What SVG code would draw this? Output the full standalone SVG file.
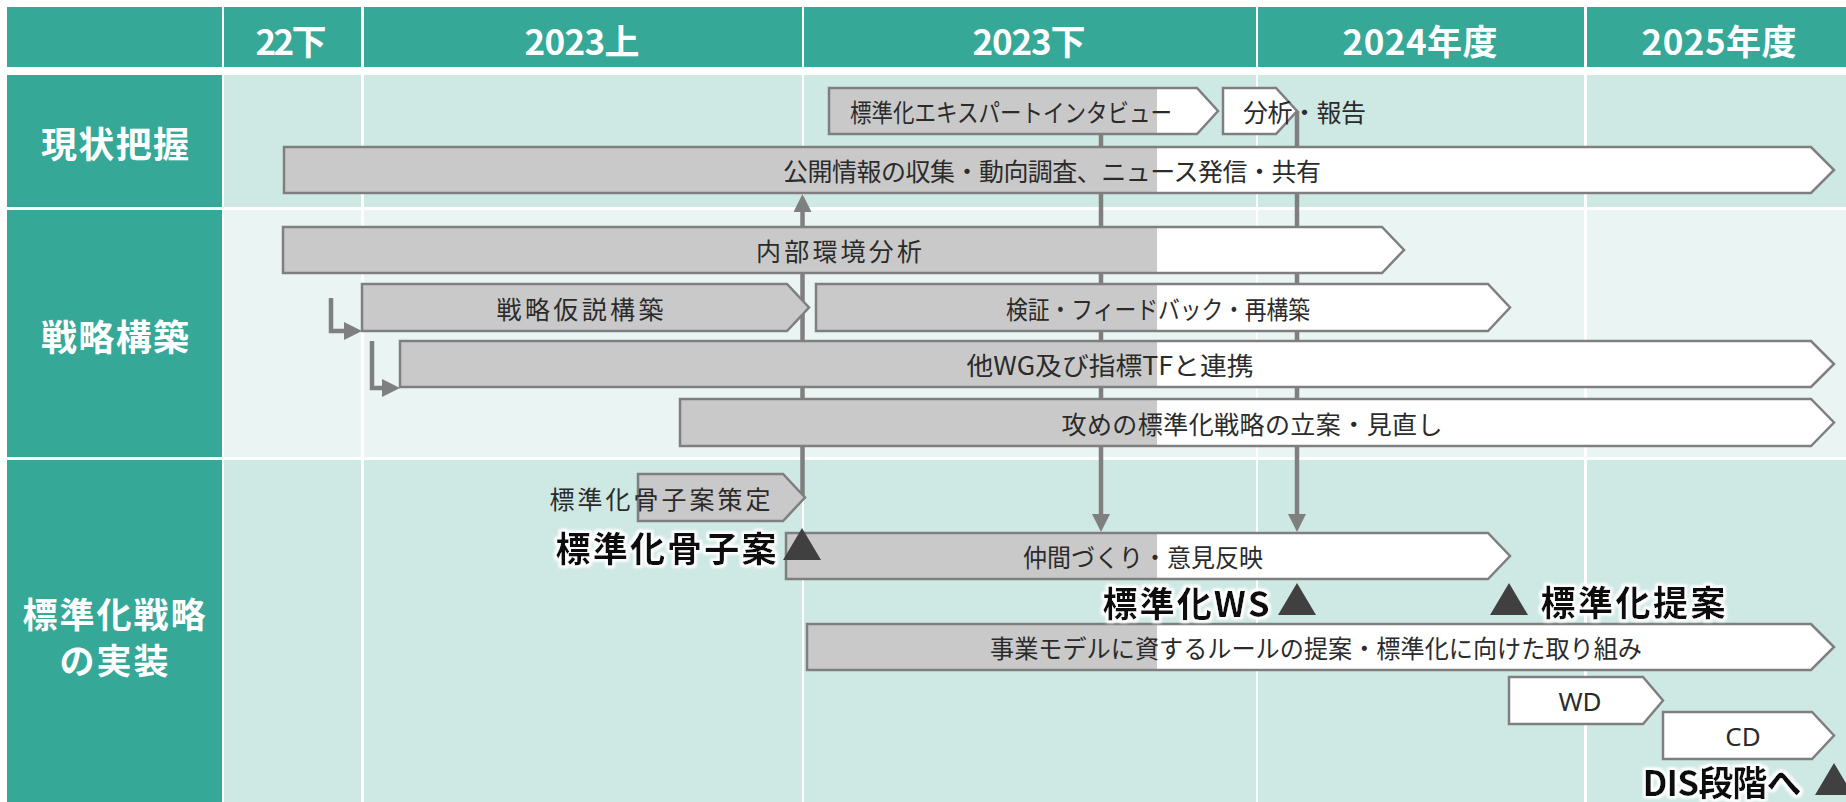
<svg xmlns="http://www.w3.org/2000/svg" width="1846" height="802" viewBox="0 0 1846 802">
<defs>
<linearGradient id="prog" gradientUnits="userSpaceOnUse" x1="0" y1="0" x2="1846" y2="0">
<stop offset="0.62676" stop-color="#C9C9C9"/>
<stop offset="0.62676" stop-color="#FFFFFF"/>
</linearGradient>
<marker id="arr" viewBox="0 0 18 18" refX="0" refY="9" markerWidth="18" markerHeight="18" orient="auto" markerUnits="userSpaceOnUse">
<path d="M0,0 L18,9 L0,18 Z" fill="#7F7F7F"/>
</marker>
<filter id="glow" x="-10%" y="-40%" width="120%" height="180%">
<feMorphology in="SourceAlpha" operator="dilate" radius="2" result="d"/>
<feGaussianBlur in="d" stdDeviation="1.6" result="b"/>
<feFlood flood-color="#FFFFFF"/>
<feComposite in2="b" operator="in" result="g"/>
<feMerge><feMergeNode in="g"/><feMergeNode in="g"/><feMergeNode in="SourceGraphic"/></feMerge>
</filter>
</defs>
<style>
text { font-family: "Noto Sans CJK JP", "Noto Sans", sans-serif; }
.hdr { fill: #35A898; }
.r1 { fill: #CEE8E4; }
.r2 { fill: #EAF5F3; }
.ht { fill: #FFFFFF; font-size: 35px; font-weight: bold; text-anchor: middle; dominant-baseline: central; }
.lab { font-size: 36px; }
.bar { fill: url(#prog); stroke: #7F7F7F; stroke-width: 2.5; }
.bt { font-size: 25px; fill: #2B2B2B; text-anchor: middle; dominant-baseline: central; }
.lt { font-family: "Noto Sans", sans-serif; font-size: 26px; }
.ms { font-size: 35px; font-weight: bold; fill: #111111; text-anchor: middle; dominant-baseline: central; filter: url(#glow); }
.tri { fill: #404040; }
.conn { stroke: #7F7F7F; stroke-width: 4.5; fill: none; stroke-linejoin: miter; marker-end: url(#arr); }
</style>
<rect x="0" y="0" width="1846" height="802" fill="#FFFFFF"/>
<g id="grid">
<rect class="hdr" x="7" y="7" width="215" height="60"/>
<rect class="hdr" x="224" y="7" width="137" height="60"/>
<rect class="hdr" x="364" y="7" width="438" height="60"/>
<rect class="hdr" x="804" y="7" width="452" height="60"/>
<rect class="hdr" x="1258" y="7" width="326" height="60"/>
<rect class="hdr" x="1587" y="7" width="259" height="60"/>
<rect class="hdr" x="7" y="75" width="215" height="132"/>
<rect class="hdr" x="7" y="210" width="215" height="247"/>
<rect class="hdr" x="7" y="460" width="215" height="342"/>
<rect class="r1" x="224" y="75" width="137" height="132"/>
<rect class="r1" x="364" y="75" width="438" height="132"/>
<rect class="r1" x="804" y="75" width="452" height="132"/>
<rect class="r1" x="1258" y="75" width="326" height="132"/>
<rect class="r1" x="1587" y="75" width="259" height="132"/>
<rect class="r2" x="224" y="210" width="137" height="247"/>
<rect class="r2" x="364" y="210" width="438" height="247"/>
<rect class="r2" x="804" y="210" width="452" height="247"/>
<rect class="r2" x="1258" y="210" width="326" height="247"/>
<rect class="r2" x="1587" y="210" width="259" height="247"/>
<rect class="r1" x="224" y="460" width="137" height="342"/>
<rect class="r1" x="364" y="460" width="438" height="342"/>
<rect class="r1" x="804" y="460" width="452" height="342"/>
<rect class="r1" x="1258" y="460" width="326" height="342"/>
<rect class="r1" x="1587" y="460" width="259" height="342"/>
<text class="ht" x="291" y="39" textLength="71">22下</text>
<text class="ht" x="582" y="39" textLength="115">2023上</text>
<text class="ht" x="1029" y="39" textLength="113">2023下</text>
<text class="ht" x="1420" y="39" textLength="155">2024年度</text>
<text class="ht" x="1719" y="39" textLength="155">2025年度</text>
<text class="ht lab" x="115" y="142" textLength="148">現状把握</text>
<text class="ht lab" x="115" y="335" textLength="148">戦略構築</text>
<text class="ht" x="115" y="612" style="letter-spacing:2px"><tspan x="115" y="612">標準化戦略</tspan><tspan x="115" y="658">の実装</tspan></text>
</g>
<g id="connectors">
<path class="conn" d="M802.5,497 V212"/>
<path class="conn" d="M1101,134 V514"/>
<path class="conn" d="M1297,111 V514"/>
<path class="conn" d="M331,298 V331 H344"/>
<path class="conn" d="M372,341 V388 H382"/>
</g>
<g id="interview">
<path class="bar" d="M829,88 H1197 L1218,111 L1197,134 H829 Z"/>
<text class="bt" x="1011" y="111" textLength="322" lengthAdjust="spacingAndGlyphs">標準化エキスパートインタビュー</text>
</g>
<g id="analysis">
<path class="bar" d="M1223,88 H1276 L1297,111 L1276,134 H1223 Z"/>
<text class="bt" x="1243" y="111" style="text-anchor:start" textLength="123">分析・報告</text>
</g>
<g id="public-info">
<path class="bar" d="M284,147 H1811 L1834,170 L1811,193 H284 Z"/>
<text class="bt" x="1052" y="170" textLength="538">公開情報の収集・動向調査、ニュース発信・共有</text>
</g>
<g id="internal">
<path class="bar" d="M283,227 H1382 L1404,250 L1382,273 H283 Z"/>
<text class="bt" x="839" y="250" textLength="166">内部環境分析</text>
</g>
<g id="hypothesis">
<path class="bar" d="M362,284 H787 L809,307.5 L787,331 H362 Z"/>
<text class="bt" x="580" y="307.5" textLength="167">戦略仮説構築</text>
</g>
<g id="verify">
<path class="bar" d="M816,284 H1488 L1510,307.5 L1488,331 H816 Z"/>
<text class="bt" x="1158" y="307.5" textLength="304" lengthAdjust="spacingAndGlyphs">検証・フィードバック・再構築</text>
</g>
<g id="collab">
<path class="bar" d="M400,341 H1811 L1834,364 L1811,387 H400 Z"/>
<text class="bt" x="1110" y="364" textLength="287" lengthAdjust="spacingAndGlyphs">他WG及び指標TFと連携</text>
</g>
<g id="offense">
<path class="bar" d="M680,399 H1811 L1834,422.5 L1811,446 H680 Z"/>
<text class="bt" x="1252" y="422.5" textLength="381">攻めの標準化戦略の立案・見直し</text>
</g>
<g id="skeleton">
<path class="bar" d="M638,474 H783 L805,497.5 L783,521 H638 Z"/>
<text class="bt" x="660" y="497.5" textLength="221">標準化骨子案策定</text>
</g>
<g id="partners">
<path class="bar" d="M786,533 H1488 L1510,556 L1488,579 H786 Z"/>
<text class="bt" x="1143" y="556" textLength="240" lengthAdjust="spacingAndGlyphs">仲間づくり・意見反映</text>
</g>
<g id="business">
<path class="bar" d="M807,624 H1811 L1834,647 L1811,670 H807 Z"/>
<text class="bt" x="1316" y="647" textLength="652" lengthAdjust="spacingAndGlyphs">事業モデルに資するルールの提案・標準化に向けた取り組み</text>
</g>
<g id="wd">
<path class="bar" d="M1509,677 H1643 L1663,700.5 L1643,724 H1509 Z"/>
<text class="bt lt" x="1580" y="700.5">WD</text>
</g>
<g id="cd">
<path class="bar" d="M1663,712 H1812 L1834,735.5 L1812,759 H1663 Z"/>
<text class="bt lt" x="1743" y="735.5">CD</text>
</g>
<g id="ms-skeleton">
<text class="ms" x="666" y="546" textLength="221">標準化骨子案</text>
<path class="tri" d="M802,528 L821,560 L783,560 Z"/>
</g>
<g id="ms-ws">
<text class="ms" x="1186" y="601" textLength="167">標準化WS</text>
<path class="tri" d="M1297,583 L1316,615 L1278,615 Z"/>
</g>
<g id="ms-proposal">
<path class="tri" d="M1509,583 L1528,615 L1490,615 Z"/>
<text class="ms" x="1633" y="600" textLength="185">標準化提案</text>
</g>
<g id="ms-dis">
<text class="ms" x="1722" y="780" textLength="159">DIS段階へ</text>
<path class="tri" d="M1834,763 L1853,795 L1815,795 Z"/>
</g>
</svg>
